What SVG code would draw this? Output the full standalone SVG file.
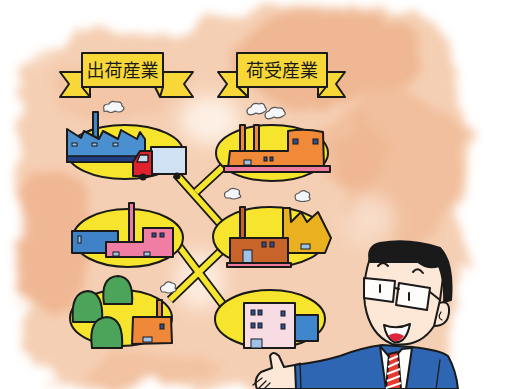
<svg xmlns="http://www.w3.org/2000/svg" width="527" height="389" viewBox="0 0 527 389">
  <defs>
    <filter id="wash" x="-20%" y="-20%" width="140%" height="140%">
      <feTurbulence type="fractalNoise" baseFrequency="0.025" numOctaves="3" seed="7" result="n"/>
      <feDisplacementMap in="SourceGraphic" in2="n" scale="40" xChannelSelector="R" yChannelSelector="G"/>
      <feGaussianBlur stdDeviation="5"/>
    </filter>
    <filter id="soft" x="-30%" y="-30%" width="160%" height="160%">
      <feGaussianBlur stdDeviation="9"/>
    </filter>
  </defs>
  <style>
    .ink{stroke:#1a1a1a;stroke-width:2;stroke-linejoin:round;stroke-linecap:round}
    .thin{stroke:#1a1a1a;stroke-width:1.3;stroke-linejoin:round;stroke-linecap:round}
    .oval{fill:#f6e52c;stroke:#1a1a1a;stroke-width:2}
    .ribbon{fill:#f8d838;stroke:#1a1a1a;stroke-width:2;stroke-linejoin:round}
    .label{font-family:"Noto Sans CJK JP","Noto Sans CJK SC",sans-serif;font-size:18px;fill:#1a1a1a;text-anchor:middle}
    .smoke{fill:#f4f6fa;stroke:#555;stroke-width:1.2}
    .win{fill:#2d4f8e;stroke:#1a1a1a;stroke-width:1}
    .winl{fill:#9fc3e8;stroke:#1a1a1a;stroke-width:1}
    .link-out{stroke:#1a1a1a;stroke-width:9;fill:none;stroke-linecap:butt}
    .link-in{stroke:#f6e52c;stroke-width:5.5;fill:none;stroke-linecap:butt}
  </style>

  <rect width="527" height="389" fill="#ffffff"/>

  <!-- watercolour wash behind everything -->
  <g id="wash" filter="url(#wash)">
    <path d="M30,60 Q60,30 130,35 Q190,30 220,20 Q300,0 400,15 Q450,20 455,70 Q470,140 462,220 Q470,300 455,360 Q400,390 300,385 Q150,392 60,385 Q20,360 28,300 Q15,220 25,150 Q20,90 30,60 Z" fill="#f3c7a6" opacity="0.85"/>
    <ellipse cx="330" cy="60" rx="100" ry="45" fill="#eeb08a" opacity="0.75"/>
    <ellipse cx="400" cy="170" rx="60" ry="80" fill="#efb690" opacity="0.6"/>
    <ellipse cx="55" cy="240" rx="40" ry="80" fill="#eeae88" opacity="0.7"/>
    <ellipse cx="120" cy="90" rx="70" ry="30" fill="#f0bd9a" opacity="0.5"/>
    <ellipse cx="150" cy="370" rx="70" ry="18" fill="#f0bb98" opacity="0.6"/>
    <ellipse cx="350" cy="150" rx="30" ry="40" fill="#eeb08a" opacity="0.5"/>
  </g>
  <g id="wash-light" filter="url(#soft)">
    <ellipse cx="210" cy="120" rx="30" ry="25" fill="#fff7f0" opacity="0.8"/>
    <ellipse cx="200" cy="280" rx="25" ry="30" fill="#fff7f0" opacity="0.7"/>
    <ellipse cx="20" cy="20" rx="40" ry="40" fill="#ffffff"/>
    <ellipse cx="505" cy="300" rx="30" ry="120" fill="#ffffff"/>
    <ellipse cx="370" cy="220" rx="25" ry="25" fill="#fbe8dc" opacity="0.7"/>
  </g>

  <!-- banners -->
  <g id="banner-ship">
    <path class="ribbon" d="M60,72 L90,72 L90,97 L60,97 L69,84 Z"/>
    <path class="ribbon" d="M157,72 L193,72 L184,84 L193,97 L160,97 Z"/>
    <path class="ribbon" d="M82,87 L90,97 L90,87 Z"/>
    <path class="ribbon" d="M163,87 L160,97 L155,87 Z"/>
    <rect class="ribbon" x="82" y="53" width="81" height="34"/>
    <text class="label" x="122.5" y="77">出荷産業</text>
  </g>
  <g id="banner-receive">
    <path class="ribbon" d="M218,72 L248,72 L248,97 L218,97 L227,84 Z"/>
    <path class="ribbon" d="M318,72 L345,72 L336,84 L345,97 L318,97 Z"/>
    <path class="ribbon" d="M238,87 L248,97 L248,87 Z"/>
    <path class="ribbon" d="M326,87 L318,97 L318,87 Z"/>
    <rect class="ribbon" x="237" y="53" width="90" height="34"/>
    <text class="label" x="282" y="77">荷受産業</text>
  </g>

  <!-- connectors between the industry ovals -->
  <g id="connectors">
    <path class="link-out" d="M176,174 L224,228 M196,192 L224,166 M178,245 L224,306 M170,300 L222,250"/>
    <path class="link-in" d="M176,174 L224,228 M196,192 L224,166 M178,245 L224,306 M170,300 L222,250"/>
  </g>

  <!-- shipping: factory with truck -->
  <g id="node-ship-1">
    <ellipse class="oval" cx="125" cy="152" rx="58" ry="27"/>
    <path class="smoke" d="M104,110 q-2,-6 5,-6 q2,-4 7,-2 q6,-1 6,4 q4,2 0,5 q-3,2 -7,0 q-4,3 -8,0 q-4,1 -3,-1 Z"/>
    <rect class="ink" x="93" y="112" width="5" height="26" fill="#3d86c8"/>
    <path class="ink" fill="#4a90d0" d="M67,162 L67,129 L81,138 L84,131 L99,139 L103,131 L118,139 L121,130 L137,139 L140,132 L145,139 L145,162 Z"/>
    <rect x="67" y="156" width="78" height="6" fill="#1f3f80" stroke="#1a1a1a" stroke-width="1.5"/>
    <rect class="winl" x="72" y="143" width="5" height="3"/>
    <rect class="winl" x="92" y="143" width="5" height="3"/>
    <rect class="winl" x="113" y="143" width="5" height="3"/>
    <rect class="ink" x="151" y="147" width="35" height="27" fill="#d0e1f3"/>
    <path class="ink" fill="#e0222e" d="M133,176 L133,162 L140,151 L152,151 L152,176 Z"/>
    <path class="thin" fill="#c9dcf0" d="M140,155 L148,155 L148,162 L137,162 Z"/>
    <circle cx="143" cy="177" r="3.5" fill="#1a1a1a"/>
    <circle cx="177" cy="176" r="3.5" fill="#1a1a1a"/>
  </g>

  <!-- receiving: orange factory -->
  <g id="node-recv-1">
    <ellipse class="oval" cx="272" cy="153" rx="56" ry="28"/>
    <path class="smoke" d="M248,114 q-3,-5 3,-7 q2,-5 8,-3 q5,-2 6,3 q3,3 -1,5 q-4,3 -8,1 q-5,3 -8,1 Z"/>
    <path class="smoke" d="M266,118 q-3,-5 3,-7 q3,-5 9,-3 q5,-1 6,3 q3,3 -1,5 q-4,3 -9,1 q-5,3 -8,1 Z"/>
    <rect class="ink" x="240" y="125" width="5" height="28" fill="#ee8a3a"/>
    <rect class="ink" x="254" y="125" width="5" height="28" fill="#ee8a3a"/>
    <path class="ink" fill="#f08a38" d="M228,168 L230,151 L288,151 L288,131 Q305,128 323,132 L324,168 Z"/>
    <rect class="ink" x="224" y="166" width="106" height="6" fill="#ee7a9c"/>
    <rect class="win" x="293" y="139" width="5" height="5"/>
    <rect class="win" x="313" y="139" width="5" height="5"/>
    <rect class="win" x="264" y="157" width="3" height="4"/>
    <rect class="win" x="270" y="157" width="3" height="4"/>
    <rect class="winl" x="244" y="160" width="7" height="5"/>
  </g>

  <!-- shipping: blue hall and pink factory -->
  <g id="node-ship-2">
    <ellipse class="oval" cx="128" cy="238" rx="55" ry="29"/>
    <rect class="ink" x="72" y="231" width="46" height="22" fill="#3f82c8"/>
    <rect class="winl" x="78" y="236" width="3" height="7"/>
    <rect class="ink" x="129" y="203" width="5" height="40" fill="#ee7aa0"/>
    <path class="ink" fill="#f07ea4" d="M106,257 L106,242 L143,242 L143,228 L173,228 L173,257 Z"/>
    <rect class="win" x="152" y="233" width="4" height="4"/>
    <rect class="win" x="160" y="233" width="4" height="4"/>
    <rect class="winl" x="113" y="252" width="6" height="4"/>
    <rect class="winl" x="144" y="252" width="6" height="4"/>
  </g>

  <!-- receiving: brown and gold factories -->
  <g id="node-recv-2">
    <ellipse class="oval" cx="270" cy="237" rx="57" ry="30"/>
    <path class="smoke" d="M226,198 q-4,-5 2,-7 q3,-4 8,-2 q5,1 3,5 q4,3 -1,4 q-5,2 -8,0 Z"/>
    <path class="smoke" d="M296,200 q-3,-6 3,-7 q3,-4 8,-1 q4,1 2,5 q3,3 -2,4 q-5,1 -8,0 Z"/>
    <path class="ink" fill="#e9b020" d="M283,253 L283,208 L290,208 L291,222 L301,212 L307,222 L318,212 L331,238 L325,253 Z"/>
    <rect class="winl" x="301" y="244" width="9" height="5"/>
    <rect class="ink" x="240" y="207" width="5" height="32" fill="#c8642a"/>
    <rect class="ink" x="230" y="238" width="58" height="26" fill="#c8642a"/>
    <rect class="win" x="262" y="242" width="4" height="5"/>
    <rect class="win" x="270" y="242" width="4" height="5"/>
    <rect class="winl" x="243" y="250" width="9" height="13"/>
    <rect class="ink" x="227" y="263" width="64" height="4" fill="#ee7a9c"/>
  </g>

  <!-- shipping: forest and small factory -->
  <g id="node-ship-3">
    <ellipse class="oval" cx="121" cy="318" rx="51" ry="28"/>
    <path class="smoke" d="M162,292 q-4,-5 2,-7 q3,-5 8,-2 q5,1 3,5 q3,3 -2,4 q-5,2 -8,0 Z"/>
    <path class="ink" fill="#4ca35a" d="M73,322 Q70,292 88,291 Q104,292 102,322 Z"/>
    <path class="ink" fill="#4ca35a" d="M104,304 Q100,277 118,276 Q134,277 132,304 Z"/>
    <path class="ink" fill="#4ca35a" d="M92,348 Q88,318 107,317 Q124,318 122,348 Z"/>
    <rect class="ink" x="157" y="300" width="5" height="18" fill="#ee8a3a"/>
    <path class="ink" fill="#ef8838" d="M132,344 L133,317 L171,317 L172,343 Z"/>
    <rect class="win" x="160" y="324" width="4" height="5"/>
    <rect class="winl" x="143" y="337" width="9" height="5"/>
  </g>

  <!-- receiving: office block -->
  <g id="node-recv-3">
    <ellipse class="oval" cx="270" cy="319" rx="55" ry="29"/>
    <rect class="ink" x="294" y="315" width="24" height="26" fill="#3f86cc"/>
    <rect class="ink" x="244" y="303" width="51" height="45" fill="#f8dce4"/>
    <rect class="win" x="251" y="310" width="4" height="5"/>
    <rect class="win" x="258" y="310" width="4" height="5"/>
    <rect class="win" x="281" y="311" width="4" height="5"/>
    <rect class="win" x="251" y="323" width="4" height="5"/>
    <rect class="win" x="258" y="323" width="4" height="5"/>
    <rect class="win" x="281" y="324" width="4" height="5"/>
    <rect class="winl" x="251" y="339" width="11" height="9"/>
  </g>

  <!-- presenter -->
  <g id="presenter">
    <!-- hand -->
    <path class="ink" fill="#fde8d8" d="M300,364 L284,367 L279,356 Q273,350 270,356 L272,368 L261,372 Q253,379 257,389 L300,389 Z"/>
    <path class="thin" fill="none" d="M262,378 L253,385 M266,381 L258,389 M270,383 L264,389"/>
    <!-- suit -->
    <path class="ink" fill="#2f66b4" d="M296,389 L295,365 Q320,362 340,356 Q360,348 382,345 L412,347 Q440,350 448,356 Q456,370 458,389 Z"/>
    <path class="thin" fill="none" d="M300,363 L301,389 M440,360 L436,389"/>
    <!-- collar and tie -->
    <path class="ink" fill="#ffffff" d="M380,346 L392,360 L402,349 L412,348 L406,389 L386,389 Z"/>
    <path class="ink" fill="#e63a30" d="M389,354 L398,352 L401,389 L386,389 Z"/>
    <path stroke="#ffffff" stroke-width="2" d="M389,360 L398,356 M388,367 L399,362 M387,374 L400,369 M387,381 L400,376 M386,388 L401,383"/>
    <!-- ear -->
    <path class="ink" fill="#fde8d8" d="M436,304 Q450,298 449,312 Q448,326 434,326 Z"/>
    <path class="thin" fill="none" d="M441,312 Q437,318 442,320"/>
    <!-- face -->
    <path class="ink" fill="#fde8d8" d="M370,258 Q362,282 365,305 Q370,335 392,344 Q420,348 434,326 L440,300 L445,262 Q420,248 370,258 Z"/>
    <!-- hair -->
    <path class="ink" fill="#1a1a1a" d="M370,262 Q366,246 380,243 Q410,238 440,248 Q454,262 451,300 L444,302 Q445,282 439,266 Q428,270 418,262 Q400,262 370,262 Z"/>
    <!-- brows -->
    <path class="ink" fill="none" d="M378,266 Q383,260 388,266 M413,272 Q418,266 423,273"/>
    <!-- glasses -->
    <path class="ink" fill="#ffffff" fill-opacity="0.9" d="M364,278 L395,281 L393,302 L364,298 Z"/>
    <path class="ink" fill="#ffffff" fill-opacity="0.9" d="M399,283 L430,288 L427,310 L396,305 Z"/>
    <path class="ink" fill="none" d="M395,288 L399,289 M430,292 L440,300"/>
    <path class="ink" fill="none" d="M380,285 L380,292 M409,293 L409,300"/>
    <!-- mouth -->
    <path class="ink" fill="#ffffff" d="M384,325 Q397,330 410,324 Q406,344 394,342 Q386,338 384,325 Z"/>
    <path fill="#e0243a" d="M389,335 Q397,331 404,336 Q400,342 394,341 Q390,339 389,335 Z"/>
  </g>
</svg>
